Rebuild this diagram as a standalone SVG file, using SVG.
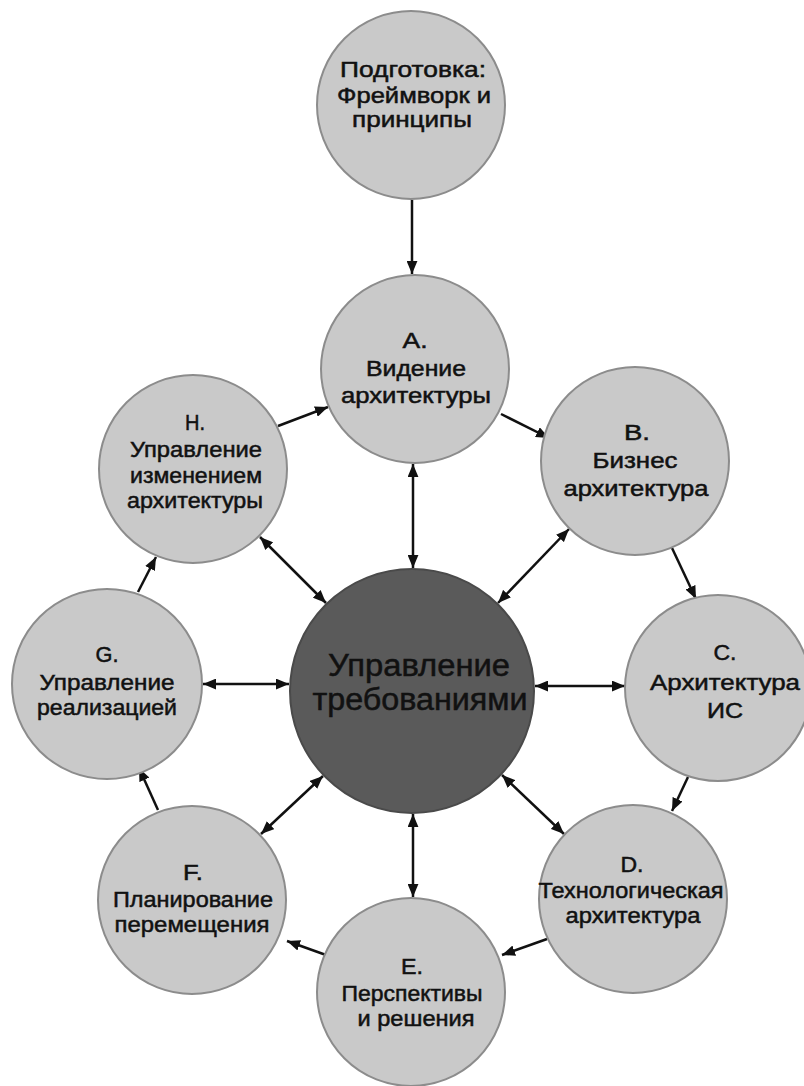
<svg xmlns="http://www.w3.org/2000/svg" width="804" height="1086" viewBox="0 0 804 1086">
<style>
.n{fill:#c9c9c9;stroke:#8c8c8c;stroke-width:2}
.c{fill:#5a5a5a;stroke:#4a4a4a;stroke-width:2}
.t{font-family:"Liberation Sans",Arial,sans-serif;font-size:22px;fill:#111;stroke:#111;stroke-width:0.5;text-anchor:middle}
.tc{font-family:"Liberation Sans",Arial,sans-serif;font-size:31px;fill:#111;stroke:#111;stroke-width:0.5;text-anchor:middle}
.e{stroke:#111;stroke-width:2.5;fill:none}
</style>
<defs>
<marker id="ah" viewBox="0 0 12 10" refX="12" refY="5" markerWidth="13" markerHeight="11" orient="auto-start-reverse" markerUnits="userSpaceOnUse"><path d="M0,0 L12,5 L0,10 z" fill="#111"/></marker>
</defs>
<rect width="804" height="1086" fill="#fff"/>
<g id="connectors">
<line class="e" x1="412" y1="200" x2="412" y2="274" marker-end="url(#ah)"/>
<line class="e" x1="501" y1="414" x2="549" y2="438" marker-end="url(#ah)"/>
<line class="e" x1="672" y1="548" x2="696" y2="599" marker-end="url(#ah)"/>
<line class="e" x1="688" y1="777" x2="672" y2="811" marker-end="url(#ah)"/>
<line class="e" x1="547" y1="939" x2="502" y2="955" marker-end="url(#ah)"/>
<line class="e" x1="326" y1="955" x2="287" y2="941" marker-end="url(#ah)"/>
<line class="e" x1="158" y1="810" x2="139" y2="768" marker-end="url(#ah)"/>
<line class="e" x1="138" y1="592" x2="156" y2="557" marker-end="url(#ah)"/>
<line class="e" x1="278" y1="426" x2="328" y2="407" marker-end="url(#ah)"/>
<line class="e" x1="413" y1="464" x2="413" y2="568" marker-start="url(#ah)" marker-end="url(#ah)"/>
<line class="e" x1="569" y1="529" x2="498" y2="603" marker-start="url(#ah)" marker-end="url(#ah)"/>
<line class="e" x1="535" y1="686" x2="625" y2="686" marker-start="url(#ah)" marker-end="url(#ah)"/>
<line class="e" x1="502" y1="775" x2="564" y2="834" marker-start="url(#ah)" marker-end="url(#ah)"/>
<line class="e" x1="413" y1="814" x2="413" y2="897" marker-start="url(#ah)" marker-end="url(#ah)"/>
<line class="e" x1="323" y1="776" x2="261" y2="834" marker-start="url(#ah)" marker-end="url(#ah)"/>
<line class="e" x1="289" y1="684" x2="203" y2="684" marker-start="url(#ah)" marker-end="url(#ah)"/>
<line class="e" x1="326" y1="603" x2="260" y2="537" marker-start="url(#ah)" marker-end="url(#ah)"/>
</g>
<g id="prep">
<circle class="n" cx="411" cy="105" r="94"/>
<text class="t" x="413" y="77" textLength="146" lengthAdjust="spacingAndGlyphs">Подготовка:</text>
<text class="t" x="414" y="103" textLength="154" lengthAdjust="spacingAndGlyphs">Фреймворк и</text>
<text class="t" x="412" y="127" textLength="120" lengthAdjust="spacingAndGlyphs">принципы</text>
</g>
<g id="A">
<circle class="n" cx="415" cy="369" r="94"/>
<text class="t" x="415" y="348" textLength="25" lengthAdjust="spacingAndGlyphs">А.</text>
<text class="t" x="416" y="376" textLength="100" lengthAdjust="spacingAndGlyphs">Видение</text>
<text class="t" x="416" y="403" textLength="150" lengthAdjust="spacingAndGlyphs">архитектуры</text>
</g>
<g id="B">
<circle class="n" cx="635" cy="461" r="94"/>
<text class="t" x="637" y="440" textLength="26" lengthAdjust="spacingAndGlyphs">В.</text>
<text class="t" x="635" y="468" textLength="85" lengthAdjust="spacingAndGlyphs">Бизнес</text>
<text class="t" x="636" y="496" textLength="145" lengthAdjust="spacingAndGlyphs">архитектура</text>
</g>
<g id="C">
<circle class="n" cx="718" cy="688" r="93"/>
<text class="t" x="725" y="660" textLength="23" lengthAdjust="spacingAndGlyphs">С.</text>
<text class="t" x="725" y="690" textLength="150" lengthAdjust="spacingAndGlyphs">Архитектура</text>
<text class="t" x="725" y="718" textLength="36" lengthAdjust="spacingAndGlyphs">ИС</text>
</g>
<g id="D">
<circle class="n" cx="633" cy="899" r="94"/>
<text class="t" x="632" y="872" textLength="23" lengthAdjust="spacingAndGlyphs">D.</text>
<text class="t" x="631" y="898" textLength="185" lengthAdjust="spacingAndGlyphs">Технологическая</text>
<text class="t" x="633" y="923" textLength="135" lengthAdjust="spacingAndGlyphs">архитектура</text>
</g>
<g id="E">
<circle class="n" cx="411" cy="992" r="94"/>
<text class="t" x="412" y="974" textLength="22" lengthAdjust="spacingAndGlyphs">Е.</text>
<text class="t" x="412" y="1001" textLength="141" lengthAdjust="spacingAndGlyphs">Перспективы</text>
<text class="t" x="416" y="1026" textLength="117" lengthAdjust="spacingAndGlyphs">и решения</text>
</g>
<g id="F">
<circle class="n" cx="192" cy="900" r="94"/>
<text class="t" x="193" y="880" textLength="20" lengthAdjust="spacingAndGlyphs">F.</text>
<text class="t" x="193" y="907" textLength="160" lengthAdjust="spacingAndGlyphs">Планирование</text>
<text class="t" x="192" y="932" textLength="155" lengthAdjust="spacingAndGlyphs">перемещения</text>
</g>
<g id="G">
<circle class="n" cx="107" cy="684" r="95"/>
<text class="t" x="107" y="662" textLength="23" lengthAdjust="spacingAndGlyphs">G.</text>
<text class="t" x="107" y="690" textLength="135" lengthAdjust="spacingAndGlyphs">Управление</text>
<text class="t" x="107" y="715" textLength="140" lengthAdjust="spacingAndGlyphs">реализацией</text>
</g>
<g id="H">
<circle class="n" cx="193" cy="469" r="94"/>
<text class="t" x="195" y="430" textLength="20" lengthAdjust="spacingAndGlyphs">Н.</text>
<text class="t" x="196" y="457" textLength="132" lengthAdjust="spacingAndGlyphs">Управление</text>
<text class="t" x="196" y="483" textLength="132" lengthAdjust="spacingAndGlyphs">изменением</text>
<text class="t" x="195" y="508" textLength="136" lengthAdjust="spacingAndGlyphs">архитектуры</text>
</g>
<g id="center">
<circle class="c" cx="412" cy="691" r="122"/>
<text class="tc" x="419" y="676" textLength="182" lengthAdjust="spacingAndGlyphs">Управление</text>
<text class="tc" x="420" y="710" textLength="215" lengthAdjust="spacingAndGlyphs">требованиями</text>
</g>
</svg>
